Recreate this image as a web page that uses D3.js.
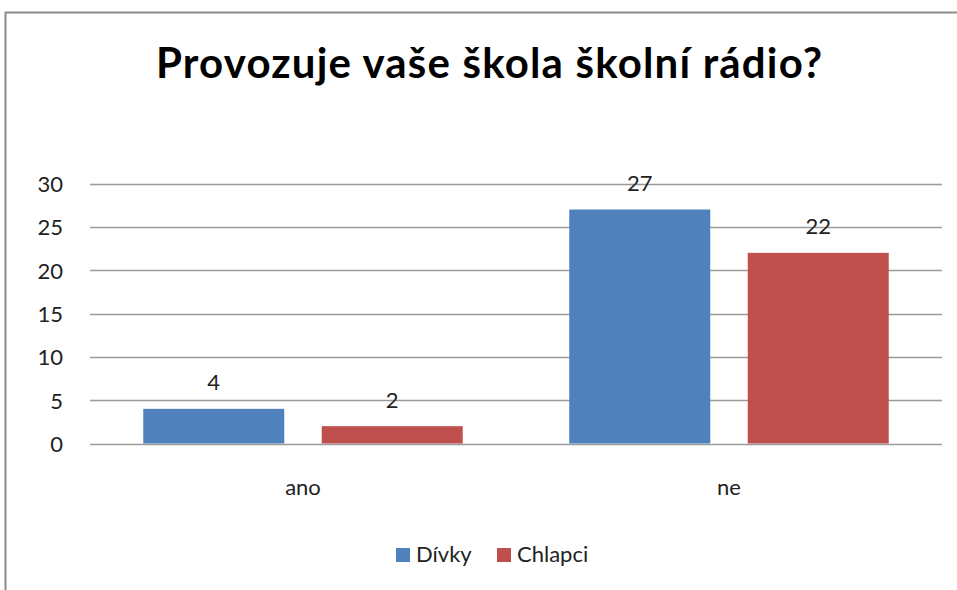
<!DOCTYPE html>
<html>
<head>
<meta charset="utf-8">
<script src="https://cdn.jsdelivr.net/npm/d3@7"></script>
<style>
  body { margin: 0; background: #fff; }
  svg { display: block; font-family: Lato, "Open Sans", sans-serif; }
</style>
</head>
<body>
<svg id="chart" width="957" height="590"></svg>
<script>
// data
const categories = ['ano', 'ne'];
const seriesNames = ['Dívky', 'Chlapci'];
const divky = [4, 27];
const chlapci = [2, 22];
const yTicks = [0, 5, 10, 15, 20, 25, 30];
const colors = ['#4F81BD', '#C0504D'];

const svg = d3.select('#chart');

// outer frame (runs off the right and bottom edge)
svg.append('rect')
    .attr('x', 5.5).attr('y', 12.5)
    .attr('width', 1000).attr('height', 1000)
    .attr('fill', 'none')
    .attr('stroke', '#8c8c8c')
    .attr('stroke-width', 2);

svg.append('text')
    .attr('x', 489).attr('y', 78)
    .attr('text-anchor', 'middle')
    .attr('font-weight', 'bold')
    .attr('font-size', 42)
    .attr('textLength', 666)
    .attr('lengthAdjust', 'spacing')
    .attr('fill', '#000')
    .text('Provozuje vaše škola školní rádio?');

const plot = { left: 90, right: 942, top: 183.5, bottom: 443.5 };

const y = d3.scaleLinear().domain([0, 30]).range([plot.bottom, plot.top]);
const x0 = d3.scaleBand().domain(categories).range([plot.left, plot.right])
    .paddingInner(0.25).paddingOuter(0.125);
const x1 = d3.scaleBand().domain(seriesNames).range([0, x0.bandwidth()])
    .paddingInner(0.21);

// gridlines
svg.append('g').selectAll('line')
    .data(yTicks)
    .enter().append('line')
    .attr('x1', plot.left).attr('x2', plot.right)
    .attr('y1', d => Math.round(y(d)) + 0.5)
    .attr('y2', d => Math.round(y(d)) + 0.5)
    .attr('stroke', '#9a9a9a')
    .attr('stroke-width', 1.3);

// y axis labels
const yAxis = svg.append('g')
    .attr('transform', `translate(${plot.left - 27},1)`)
    .call(d3.axisLeft(y).tickValues(yTicks).tickSize(0).tickPadding(0));
yAxis.select('.domain').remove();
yAxis.selectAll('text')
    .attr('font-size', 22)
    .attr('font-family', 'Lato, "Open Sans", sans-serif')
    .attr('fill', '#222');

// x axis labels
const xAxis = svg.append('g')
    .attr('transform', `translate(0,${plot.bottom + 36})`)
    .call(d3.axisBottom(x0).tickSize(0).tickPadding(0));
xAxis.select('.domain').remove();
xAxis.selectAll('text')
    .attr('font-size', 22)
    .attr('font-family', 'Lato, "Open Sans", sans-serif')
    .attr('fill', '#222');

const rows = categories.map((c, i) => ({
    cat: c,
    vals: [{ s: seriesNames[0], v: divky[i], c: colors[0] },
           { s: seriesNames[1], v: chlapci[i], c: colors[1] }]
}));

const groups = svg.append('g').selectAll('g')
    .data(rows)
    .enter().append('g')
    .attr('transform', d => `translate(${x0(d.cat)},0)`);

groups.selectAll('rect')
    .data(d => d.vals)
    .enter().append('rect')
    .attr('x', d => x1(d.s))
    .attr('y', d => y(d.v))
    .attr('width', x1.bandwidth())
    .attr('height', d => y(0) - y(d.v))
    .attr('fill', d => d.c);

groups.selectAll('text')
    .data(d => d.vals)
    .enter().append('text')
    .attr('x', d => x1(d.s) + x1.bandwidth() / 2)
    .attr('y', d => y(d.v) - 18.5)
    .attr('text-anchor', 'middle')
    .attr('font-size', 22)
    .attr('fill', '#222')
    .text(d => d.v);

// legend
const legendX = [396, 497];
const legend = svg.append('g').selectAll('g')
    .data(seriesNames)
    .enter().append('g')
    .attr('transform', (d, i) => `translate(${legendX[i]},548)`);
legend.append('rect')
    .attr('width', 14).attr('height', 14)
    .attr('fill', (d, i) => colors[i]);
legend.append('text')
    .attr('x', 20).attr('y', 14)
    .attr('font-size', 22)
    .attr('fill', '#222')
    .text(d => d);
</script>
</body>
</html>
